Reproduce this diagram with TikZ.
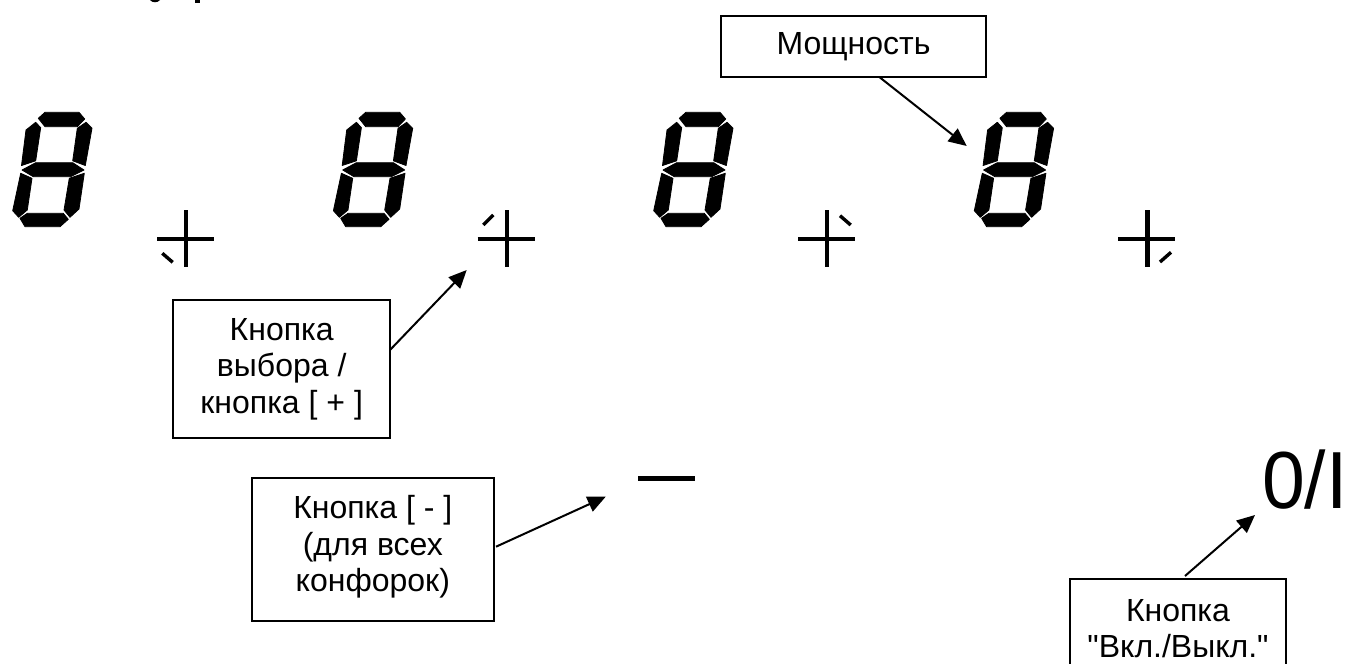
\documentclass[tikz,border=0pt]{standalone}
\usepackage{fontspec}
\setmainfont[Ligatures=TeXOff]{Liberation Sans}
\usetikzlibrary{arrows.meta}
\tikzset{
  x=1pt,y=-1pt,
  label box/.style={draw=black,line width=2pt,fill=white,inner sep=0pt,align=center,font=\fontsize{32}{36.7}\selectfont},
  pointer/.style={draw=black,line width=2pt,-{Triangle[length=18pt,width=16pt]}},
  bar/.style={draw=black,line width=4.4pt},
  tick/.style={draw=black,line width=3.4pt},
  segment/.style={fill=black,draw=black,line width=.8pt,line join=round},
}
\newcommand{\digitseg}[1]{%
 \begin{scope}[shift={(#1,0)}]
  \path[segment] (38.3,118.3)--(45,112.3)--(79,112.3)--(84.7,119)--(77.3,126.7)--(45,126.7)--cycle;
  \path[segment] (26,130)--(35.7,122.3)--(40.7,127.7)--(35.7,160.8)--(21.5,165.5)--cycle;
  \path[segment] (86,122.3)--(92,128.3)--(85.3,165.5)--(72.7,160.8)--(77.3,128.3)--cycle;
  \path[segment] (22,170)--(35.7,162.7)--(72.7,162.7)--(84,170)--(70.7,176.7)--(33.3,176.7)--cycle;
  \path[segment] (20.7,173.3)--(32,178.3)--(27.3,210)--(18.7,217.3)--(12.7,210.7)--cycle;
  \path[segment] (84.3,173.3)--(79,209)--(70,217.3)--(64,210)--(69.3,178.3)--cycle;
  \path[segment] (20,218.3)--(27.3,213.3)--(63.3,213.3)--(68.3,219.3)--(60,226.7)--(25,226.7)--cycle;
 \end{scope}}
\begin{document}
\begin{tikzpicture}
\useasboundingbox (0,0) rectangle (1345,664);
\fill (150,0) .. controls (152,3) and (158,3) .. (160,0) -- cycle;
\fill (195,0) rectangle (200,2.6);
\digitseg{0}\digitseg{320.7}\digitseg{641}\digitseg{961.6}
\foreach \cx in {186,506.7,827,1147.3}{
  \draw[bar] (\cx-29,238.7)--(\cx+28,238.7);
  \draw[bar] (\cx,210)--(\cx,267.3);
}
\draw[tick] (162.3,253.3)--(172.7,262.3);
\draw[tick] (483.3,225)--(493.3,215);
\draw[tick] (840,215.7)--(850.7,225);
\draw[tick] (1160,262)--(1171,252.3);
\draw[bar] (638.3,478.3)--(695.3,478.3);
\node[inner sep=0pt,font=\fontsize{81}{81}\selectfont,anchor=base east] (onoff) at (1343,508) {\scalebox{.95}[1]{0/I\kern-5pt}};
\node[label box,minimum width=265pt,minimum height=60.7pt] (power) at (853.5,46.3) {Мощность};
\node[label box,minimum width=216.7pt,minimum height=138.3pt] (select) at (281.7,369.2) {Кнопка\\выбора /\\кнопка [ + ]};
\node[label box,minimum width=242.3pt,minimum height=143.6pt] (minus) at (372.8,549.5) {Кнопка [ - ]\\(для всех\\конфорок)\par\vspace{5pt}};
\node[label box,minimum width=216pt,minimum height=99pt] (switch) at (1178,628.5) {Кнопка\\"Вкл./Выкл."};
\coordinate (tpower) at (966.7,146);
\coordinate (tselect) at (466.7,270);
\coordinate (tminus) at (605.7,496.7);
\coordinate (tswitch) at (1255,515);
\draw[pointer] (879.3,77) -- (tpower);
\draw[pointer] (390,350) -- (tselect);
\draw[pointer] (496,546.7) -- (tminus);
\draw[pointer] (1185,576) -- (tswitch);
\end{tikzpicture}
\end{document}
